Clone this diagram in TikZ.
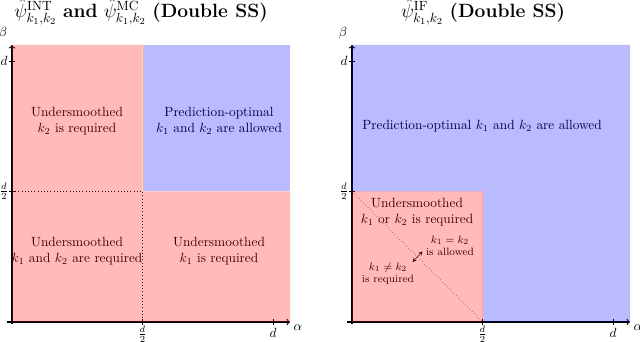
\documentclass[tikz,border=0pt]{standalone}
\usepackage{amsmath}

\newcommand*{\dd}{261}
\newcommand*{\hd}{130.5}
\newcommand*{\xtop}{278}
\newcommand*{\ytop}{277}

\begin{document}
\begin{tikzpicture}
[
	x=0.75pt,y=0.75pt,
	regiontxt/.style={align=center,font=\normalsize,inner sep=0pt},
	smalltxt/.style={align=center,font=\footnotesize,inner sep=0pt},
	ticklbl/.style={inner sep=0pt},
	pinkfill/.style={fill=red,fill opacity=0.27},
	bluefill/.style={fill=blue,fill opacity=0.27}
]
	\useasboundingbox (0,0) rectangle (640,342);

	% axes and ticks, both panels
	\foreach \ox in {12,352} {
		\begin{scope}[shift={(\ox,20)}]
			\draw[->,thick] (-5,0) -- (\xtop,0);
			\draw[->,thick] (0,-2) -- (0,\ytop);
			\foreach \t in {\hd,\dd} {
				\draw (\t,-3) -- (\t,3);
				\draw (-3,\t) -- (3,\t);
			}
			\node[ticklbl] (dx\ox) at (\dd,-11) {$d$};
			\node[ticklbl] (hx\ox) at (\hd,-12) {$\frac{d}{2}$};
			\node[ticklbl] (dy\ox) at (-8,\dd) {$d$};
			\node[ticklbl] (hy\ox) at (-8,\hd) {$\frac{d}{2}$};
			\node[ticklbl] (alpha\ox) at (286,-6) {$\alpha$};
			\node[ticklbl] (beta\ox) at (-9,289) {$\beta$};
		\end{scope}
	}

	% left panel
	\begin{scope}[shift={(12,20)}]
		\node (titleL) at (129,310) {\Large $\hat{\psi}^{\mathrm{INT}}_{k_1,k_2}$ \textbf{and} $\hat{\psi}^{\mathrm{MC}}_{k_1,k_2}$ \textbf{(Double SS)}};

		\draw[dotted] (0,\hd) -- (\hd,\hd) -- (\hd,0);

		\node[regiontxt] (ulL) at (65,201) {Undersmoothed\\$k_2$ is required};
		\node[regiontxt] (urL) at (207,201) {Prediction-optimal\\$k_1$ and $k_2$ are allowed};
		\node[regiontxt] (llL) at (65,71) {Undersmoothed\\$k_1$ and $k_2$ are required};
		\node[regiontxt] (lrL) at (207,71) {Undersmoothed\\$k_1$ is required};

		\fill[pinkfill] (0,0) rectangle (\xtop,\hd) (0,\hd) rectangle (\hd,\ytop);
		\fill[bluefill] (\hd,\hd) rectangle (\xtop,\ytop);
	\end{scope}

	% right panel
	\begin{scope}[shift={(352,20)}]
		\node (titleR) at (131,310) {\Large $\hat{\psi}^{\mathrm{IF}}_{k_1,k_2}$ \textbf{(Double SS)}};

		\draw[dotted] (0,\hd) -- (\hd,0);

		\node[regiontxt] (topR) at (130,196) {Prediction-optimal $k_1$ and $k_2$ are allowed};
		\node[regiontxt] (undR) at (65,110) {Undersmoothed\\$k_1$ or $k_2$ is required};
		\node[smalltxt] (eqR) at (98,76) {$k_1 = k_2$\\is allowed};
		\node[smalltxt] (neqR) at (36,48) {$k_1 \neq k_2$\\is required};
		\coordinate (arrA) at (60.5,60);
		\coordinate (arrB) at (70.5,70.5);
		\draw[<->,>=stealth] (arrA) -- (arrB);

		\fill[pinkfill] (0,0) rectangle (\hd,\hd);
		\fill[bluefill] (\hd,0) -- (\xtop,0) -- (\xtop,\ytop) -- (0,\ytop) -- (0,\hd) -- (\hd,\hd) -- cycle;
	\end{scope}

\end{tikzpicture}
\end{document}
